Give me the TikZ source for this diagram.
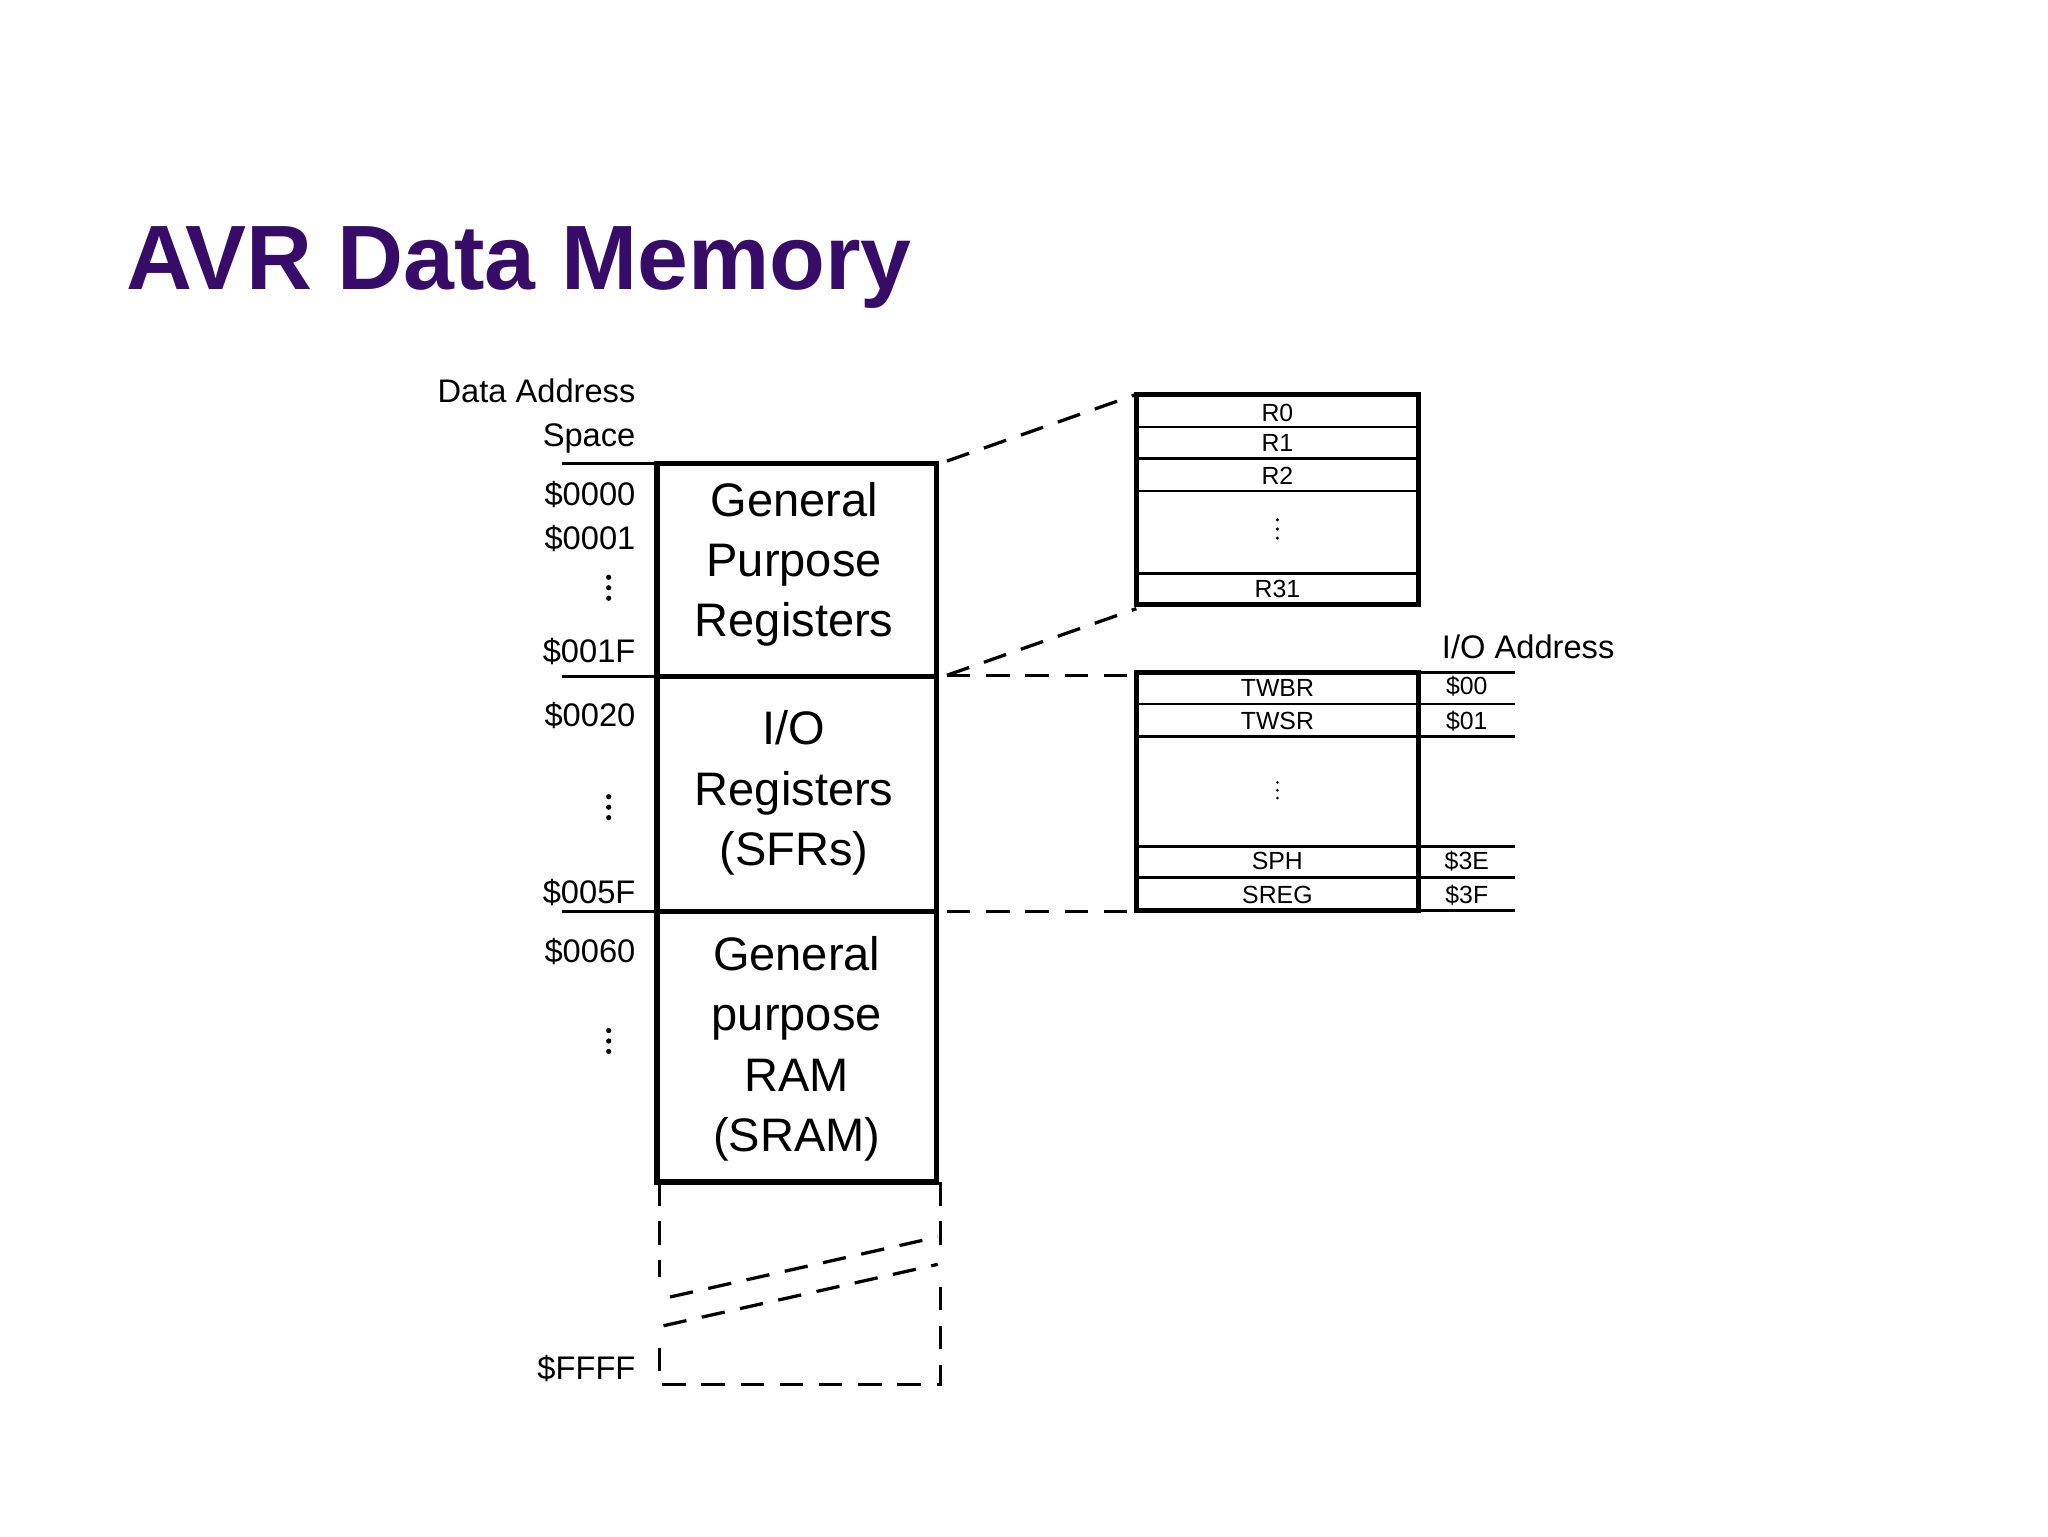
\documentclass[tikz,border=0pt]{standalone}
\usepackage{fontspec}
\setmainfont{Liberation Sans}
\definecolor{titlec}{RGB}{55,12,105}
\begin{document}
\begin{tikzpicture}[x=1pt,y=-1pt,
 thick box/.style={line width=4pt},
 thinl/.style={line width=2pt},
 dsh/.style={line width=2.5pt,dash pattern=on 18pt off 12pt},
 big/.style={font=\fontsize{36}{46}\selectfont,align=center},
 mid/.style={font=\fontsize{25}{28}\selectfont},
 sm/.style={font=\fontsize{19}{20}\selectfont}]
\useasboundingbox (0,0) rectangle (1568,1176);
\node[anchor=base west,text=titlec,font=\fontsize{70}{80}\bfseries\selectfont] (title) at (93,222) {AVR Data Memory};
% main box
\draw[thick box] (503,355) rectangle (717,905);
\draw[thick box] (503,518) -- (717,518);
\draw[thick box] (503,698) -- (717,698);
\foreach \y in {355,518,698} \draw[thinl] (430,\y) -- (503,\y);
\node[big] (gpr) at (608,432) {General\\Purpose\\Registers};
\node[big] (io) at (608,607) {I/O\\Registers\\(SFRs)};
\node[big] (ram) at (610,803) {General\\purpose\\RAM\\(SRAM)};
% left labels
\node[mid,anchor=base east,align=right] (das) at (490,308) {Data Address};
\node[mid,anchor=base east] (sp) at (490,342) {Space};
\foreach \t/\y in {\$0000/387,\$0001/421,\$001F/507,\$0020/556,\$005F/692,\$0060/737,\$FFFF/1056}
 \node[mid,anchor=base east] at (490,\y) {\t};
\foreach \y in {450,618,797} \foreach \d in {-8,0,8} \fill (466,\y+\d) circle (2pt);
% dashed continuation
\draw[dsh] (505,905) -- (505,978);
\draw[dsh] (720,905) -- (720,958);
\draw[dsh] (513,993) -- (718,947);
\draw[dsh] (508,1015) -- (718,968);
\draw[dsh] (720,985) -- (720,1060) -- (505,1060) -- (505,1032);
% register file
\draw[thick box] (870,302) rectangle (1086,463);
\foreach \y in {327,351,376,439} \draw[thinl] (870,\y) -- (1086,\y);
\foreach \t/\y in {R0/316,R1/339,R2/364,R31/451} \node[sm] at (978,\y) {\t};
\foreach \d in {-7,0,7} \fill (978,405+\d) circle (1.3pt);
\draw[dsh] (725,353) -- (870,302);
\draw[dsh] (725,517) -- (870,466);
% io
\draw[thick box] (870,515) rectangle (1086,697);
\foreach \y in {539,564,648,672} \draw[thinl] (870,\y) -- (1086,\y);
\foreach \y in {515,539,564,648,672,697} \draw[thinl] (1086,\y) -- (1160,\y);
\foreach \t/\y in {TWBR/527,TWSR/552,SPH/659,SREG/685} \node[sm] at (978,\y) {\t};
\foreach \d in {-6,0,6} \fill (978,605+\d) circle (1.1pt);
\foreach \t/\y in {\$00/525,\$01/552,\$3E/659,\$3F/685} \node[sm] at (1123,\y) {\t};
\node[mid] (ioa) at (1170,495) {I/O Address};
\draw[dsh] (725,517) -- (870,517);
\draw[dsh] (725,698) -- (870,698);
\end{tikzpicture}
\end{document}
